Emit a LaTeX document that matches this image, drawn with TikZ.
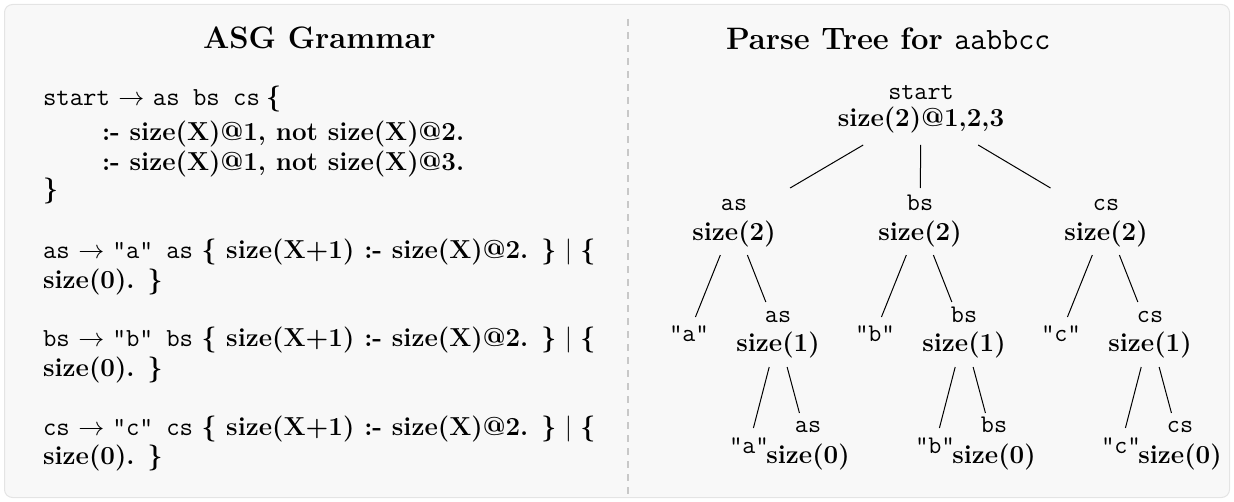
\RequirePackage{fix-cm}
\documentclass[tikz,border=0pt]{standalone}
\usetikzlibrary{calc}
\definecolor{panelfill}{HTML}{F8F8F8}
\definecolor{panelborder}{HTML}{E4E4E4}
\definecolor{dashgray}{HTML}{C8C8C8}
\newcommand\tedge[4]{\draw[edge] ($(#1)!#3!(#2)$) -- ($(#1)!#4!(#2)$);}
\begin{document}
\begin{tikzpicture}[x=0.5pt,y=-0.5pt,
  every node/.style={inner sep=0pt, outer sep=0pt},
  ln/.style={anchor=base west, font=\fontsize{13}{15}\selectfont},
  ttl/.style={anchor=base west, font=\fontsize{15.5}{18}\selectfont\bfseries},
  tlab/.style={anchor=base, font=\fontsize{12.7}{15}\selectfont\ttfamily},
  slab/.style={anchor=base, font=\fontsize{13}{15}\selectfont\bfseries},
  edge/.style={line width=0.5pt, black}]
\useasboundingbox (0,0) rectangle (1234,502);
\draw[panelborder, fill=panelfill, line width=0.5pt, rounded corners=4pt] (4.5,4.5) rectangle (1229.5,497.5);
\coordinate (dtop) at (628,19);
\coordinate (dbot) at (628,496);
\draw[dashgray, line width=1pt, dash pattern=on 3.5pt off 3pt] (dtop) -- (dbot);

% titles
\node[ttl] (t1) at (203,49) {ASG Grammar};
\node[ttl] (t2) at (726,50) {Parse Tree for \texttt{\mdseries aabbcc}};

% grammar
\node[ln] (g1) at (43,106) {\texttt{start} $\rightarrow$ \texttt{as bs cs}\hspace{3pt}\textbf{\{}};
\node[ln] (g2) at (102,141) {\textbf{:- size(X)@1, not size(X)@2.}};
\node[ln] (g3) at (102,170) {\textbf{:- size(X)@1, not size(X)@3.}};
\node[ln] (g4) at (43,198) {\textbf{\}}};
\node[ln] (ra1) at (43,258) {\texttt{as} $\rightarrow$ \texttt{"a" as} \textbf{\{ size(X+1) :- size(X)@2. \}}~$|$~\textbf{\{}};
\node[ln] (ra2) at (43,288) {\textbf{size(0). \}}};
\node[ln] (rb1) at (43,346) {\texttt{bs} $\rightarrow$ \texttt{"b" bs} \textbf{\{ size(X+1) :- size(X)@2. \}}~$|$~\textbf{\{}};
\node[ln] (rb2) at (43,376) {\textbf{size(0). \}}};
\node[ln] (rc1) at (43,435) {\texttt{cs} $\rightarrow$ \texttt{"c" cs} \textbf{\{ size(X+1) :- size(X)@2. \}}~$|$~\textbf{\{}};
\node[ln] (rc2) at (43,464) {\textbf{size(0). \}}};

% tree
\coordinate (R) at (921,111);
\node[tlab] (Rt) at (921,100) {start};
\node[slab] (Rs) at (921,127) {size(2)@1,2,3};
\foreach \cl/\off in {a/0,b/186,c/372}{
  \coordinate (\cl1) at (734+\off,221);
  \node[tlab] (\cl1t) at (734+\off,210) {\cl s};
  \node[slab] (\cl1s) at (734+\off,240) {size(2)};
  \coordinate (\cl2) at (778+\off,333);
  \node[tlab] (\cl2t) at (778+\off,322) {\cl s};
  \node[slab] (\cl2s) at (778+\off,351) {size(1)};
  \coordinate (\cl3) at (808+\off,445);
  \node[tlab] (\cl3t) at (808+\off,432) {\cl s};
  \node[slab] (\cl3s) at (808+\off,463) {size(0)};
  \coordinate (\cl2L) at (689+\off,333);
  \node[tlab] (\cl2Lt) at (689+\off,341) {"\cl"};
  \coordinate (\cl3L) at (749+\off,445);
  \node[tlab] (\cl3Lt) at (749+\off,453) {"\cl"};
  \tedge{R}{\cl1}{0.309}{0.70}
  \tedge{\cl1}{\cl2L}{0.304}{0.857}
  \tedge{\cl1}{\cl2}{0.304}{0.723}
  \tedge{\cl2}{\cl3L}{0.304}{0.848}
  \tedge{\cl2}{\cl3}{0.304}{0.714}
}
\end{tikzpicture}
\end{document}
